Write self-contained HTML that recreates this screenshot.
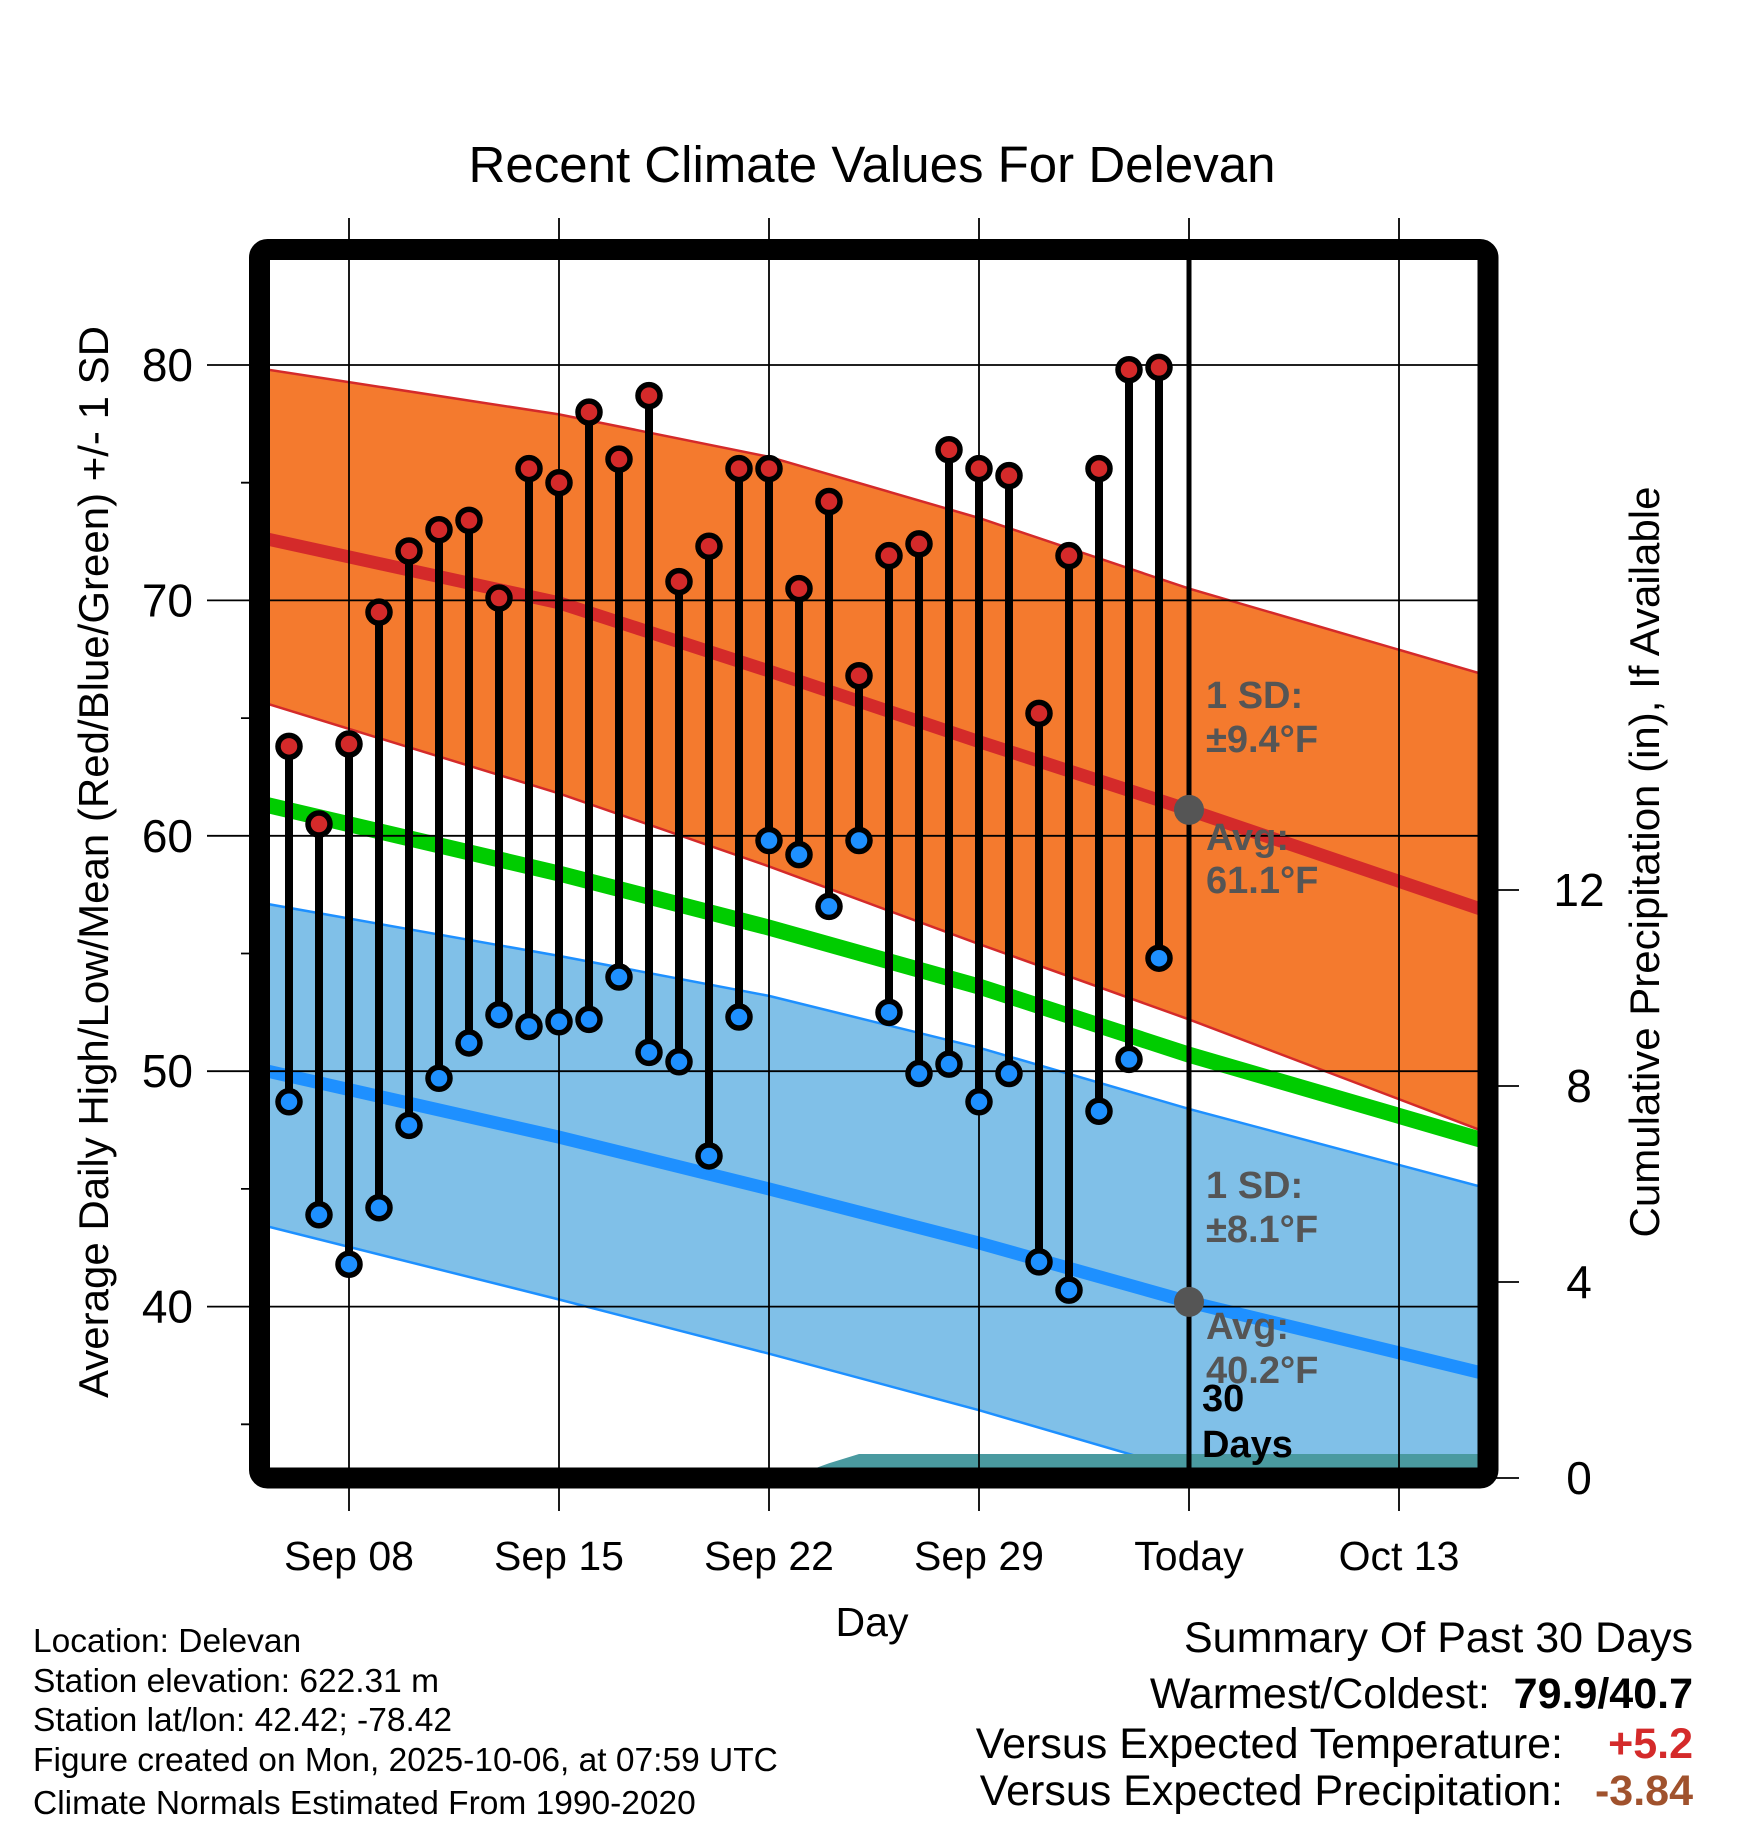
<!DOCTYPE html>
<html><head><meta charset="utf-8"><style>
html,body{margin:0;padding:0;background:#fff;}
svg{display:block;font-family:"Liberation Sans",Arial,sans-serif;}
</style></head><body>
<svg id="chart" width="1748" height="1828" viewBox="0 0 1748 1828" xmlns="http://www.w3.org/2000/svg">
<defs><clipPath id="plotclip"><rect x="270" y="260" width="1208" height="1208"/></clipPath></defs>
<rect width="1748" height="1828" fill="#fff"/>
<text x="872" y="182" font-size="51" text-anchor="middle">Recent Climate Values For Delevan</text>
<g id="plot" clip-path="url(#plotclip)"></g>
<g id="axes"></g>
<rect x="259.5" y="249.5" width="1228.5" height="1228.5" rx="8" fill="none" stroke="#000" stroke-width="21"/>
<g id="marks"></g>
<text x="872" y="1636" font-size="41" text-anchor="middle">Day</text>
<text transform="translate(108,862) rotate(-90)" font-size="42" text-anchor="middle">Average Daily High/Low/Mean (Red/Blue/Green) +/- 1 SD</text>
<text transform="translate(1659,862) rotate(-90)" font-size="42" text-anchor="middle">Cumulative Precipitation (in), If Available</text>
<g font-size="33.5">
<text x="33" y="1652">Location: Delevan</text>
<text x="33" y="1692">Station elevation: 622.31 m</text>
<text x="33" y="1731">Station lat/lon: 42.42; -78.42</text>
<text x="33" y="1771">Figure created on Mon, 2025-10-06, at 07:59 UTC</text>
<text x="33" y="1814">Climate Normals Estimated From 1990-2020</text>
</g>
<g font-size="43">
<text x="1693" y="1652" text-anchor="end">Summary Of Past 30 Days</text>
<text x="1490" y="1708" text-anchor="end">Warmest/Coldest:</text>
<text x="1693" y="1708" text-anchor="end" font-weight="bold">79.9/40.7</text>
<text x="1563" y="1758" text-anchor="end">Versus Expected Temperature:</text>
<text x="1693" y="1758" text-anchor="end" font-weight="bold" fill="#d42a2a">+5.2</text>
<text x="1563" y="1805" text-anchor="end">Versus Expected Precipitation:</text>
<text x="1693" y="1805" text-anchor="end" font-weight="bold" fill="#a0522d">-3.84</text>
</g>
<script>
// ---- data ----
const knotDays = [-0.7, 9, 16, 23, 30, 39.7];
const highMean = [72.6, 69.9, 67.0, 64.0, 61.1, 56.9];
const highUpper = [79.8, 77.9, 76.1, 73.5, 70.5, 66.9];
const highLower = [65.6, 61.8, 58.7, 55.4, 52.2, 47.5];
const meanNormal = [61.3, 58.4, 56.1, 53.6, 50.7, 47.1];
const lowMean = [50.0, 47.2, 45.0, 42.7, 40.2, 37.2];
const lowUpper = [57.1, 54.9, 53.2, 51.0, 48.4, 45.1];
const lowLower = [43.4, 40.3, 38.0, 35.6, 33.0, 29.8];
const precipDays = [-0.7, 16, 17, 18, 19, 39.7];
const precipCum = [0, 0, 0.08, 0.3, 0.49, 0.49];
const dailyHigh = [63.8,60.5,63.9,69.5,72.1,73.0,73.4,70.1,75.6,75.0,78.0,76.0,78.7,70.8,72.3,75.6,75.6,70.5,74.2,66.8,71.9,72.4,76.4,75.6,75.3,65.2,71.9,75.6,79.8,79.9];
const dailyLow = [48.7,43.9,41.8,44.2,47.7,49.7,51.2,52.4,51.9,52.1,52.2,54.0,50.8,50.4,46.4,52.3,59.8,59.2,57.0,59.8,52.5,49.9,50.3,48.7,49.9,41.9,40.7,48.3,50.5,54.8];
const xTickDays = [2, 9, 16, 23, 30, 37];
const xTickLabels = ["Sep 08","Sep 15","Sep 22","Sep 29","Today","Oct 13"];
const yTicks = [40, 50, 60, 70, 80];
const yMinorTicks = [35, 45, 55, 65, 75];
const y2Ticks = [0, 4, 8, 12];
const todayDay = 30;
const avgHigh = 61.1, avgLow = 40.2;

// ---- scales ----
const X = d => 289 + 30 * d;
const Y = t => 365 + (80 - t) * 23.54;
const Y2 = p => 1478 - p * 49;
const NS = "http://www.w3.org/2000/svg";
function mk(tag, attrs, parent) {
  const e = document.createElementNS(NS, tag);
  for (const k in attrs) e.setAttribute(k, attrs[k]);
  parent.appendChild(e);
  return e;
}
const plot = document.getElementById('plot');
const axes = document.getElementById('axes');
const marks = document.getElementById('marks');
const pts = (days, vals, f) => days.map((d, i) => X(d).toFixed(1) + ',' + f(vals[i]).toFixed(1));

function band(up, lo, fill, edge, name) {
  const p = pts(knotDays, up, Y).concat(pts(knotDays, lo, Y).reverse());
  const b = mk('polygon', {points: p.join(' '), fill: fill}, plot);
  
  
  [up, lo].forEach((arr, j) => {
    const l = mk('polyline', {points: pts(knotDays, arr, Y).join(' '), fill: 'none', stroke: edge, 'stroke-width': 2.5}, plot);
    
    
  });
}
function line(arr, color, w, name) {
  const l = mk('polyline', {points: pts(knotDays, arr, Y).join(' '), fill: 'none', stroke: color, 'stroke-width': w}, plot);
  
  
}
band(lowUpper, lowLower, '#80c0e8', '#1e90ff', 'low-sd-band');
band(highUpper, highLower, '#f47a2e', '#d42a2a', 'high-sd-band');
line(lowMean, '#1e90ff', 13, 'low-normal-line');
line(highMean, '#d42a2a', 13, 'high-normal-line');
line(meanNormal, '#00cc00', 16, 'mean-normal-line');

// precip area
{
  const p = pts(precipDays, precipCum, Y2);
  p.push(X(precipDays[precipDays.length-1]).toFixed(1) + ',1478', X(precipDays[0]).toFixed(1) + ',1478');
  const a = mk('polygon', {points: p.join(' '), fill: '#4a9aa0'}, plot);
  
  
}

// grid
xTickDays.forEach((d, i) => {
  const g = mk('line', {x1: X(d), x2: X(d), y1: 218, y2: 1511, stroke: '#000', 'stroke-width': 1.8}, axes);
  
  
  const t = mk('text', {x: X(d), y: 1570, 'font-size': 41, 'text-anchor': 'middle'}, axes);
  
  
  t.textContent = xTickLabels[i];
});
yTicks.forEach(v => {
  const g = mk('line', {x1: 207, x2: 1478, y1: Y(v), y2: Y(v), stroke: '#000', 'stroke-width': 1.8}, axes);
  
  
  const t = mk('text', {x: 193, y: Y(v) + 16, 'font-size': 46, 'text-anchor': 'end'}, axes);
  
  
  t.textContent = v;
});
yMinorTicks.forEach(v => {
  const g = mk('line', {x1: 241, x2: 260, y1: Y(v), y2: Y(v), stroke: '#000', 'stroke-width': 1.8}, axes);
  
  
});
y2Ticks.forEach(v => {
  const g = mk('line', {x1: 1488, x2: 1519, y1: Y2(v), y2: Y2(v), stroke: '#000', 'stroke-width': 1.8}, axes);
  
  
  const t = mk('text', {x: 1579, y: Y2(v) + 16, 'font-size': 46, 'text-anchor': 'middle'}, axes);
  
  
  t.textContent = v;
});

// today line
{
  const l = mk('line', {x1: X(todayDay), x2: X(todayDay), y1: 260, y2: 1470, stroke: '#000', 'stroke-width': 5}, marks);
  
  
}

// daily stems and markers
dailyHigh.forEach((h, i) => {
  const s = mk('line', {x1: X(i), x2: X(i), y1: Y(h), y2: Y(dailyLow[i]), stroke: '#000', 'stroke-width': 8}, marks);
  
  
});
dailyHigh.forEach((h, i) => {
  const c1 = mk('circle', {cx: X(i), cy: Y(h), r: 11, fill: '#d42a2a', stroke: '#000', 'stroke-width': 5.5}, marks);
  
  
  const c2 = mk('circle', {cx: X(i), cy: Y(dailyLow[i]), r: 11, fill: '#1e90ff', stroke: '#000', 'stroke-width': 5.5}, marks);
  
  
});
[avgHigh, avgLow].forEach(v => {
  const c = mk('circle', {cx: X(todayDay), cy: Y(v), r: 15, fill: '#555'}, marks);
  
  
});

// annotations
const ann = [
  ['1 SD:', 708, '#555', 'high-sd-label'], ['\u00b19.4\u00b0F', 752, '#555', 'high-sd-value'],
  ['Avg:', 850, '#555', 'high-avg-label'], [avgHigh.toFixed(1) + '\u00b0F', 893, '#555', 'high-avg-value'],
  ['1 SD:', 1198, '#555', 'low-sd-label'], ['\u00b18.1\u00b0F', 1242, '#555', 'low-sd-value'],
  ['Avg:', 1339, '#555', 'low-avg-label'], [avgLow.toFixed(1) + '\u00b0F', 1383, '#555', 'low-avg-value'],
  ['30', 1411, '#000', 'days-count-label'], ['Days', 1457, '#000', 'days-unit-label']
];
ann.forEach(a => {
  const t = mk('text', {x: a[0] === '30' || a[0] === 'Days' ? 1202 : 1206, y: a[1], 'font-size': 38, 'font-weight': 'bold', fill: a[2]}, marks);
  
  
  t.textContent = a[0];
});
</script>
</svg>
</body></html>
